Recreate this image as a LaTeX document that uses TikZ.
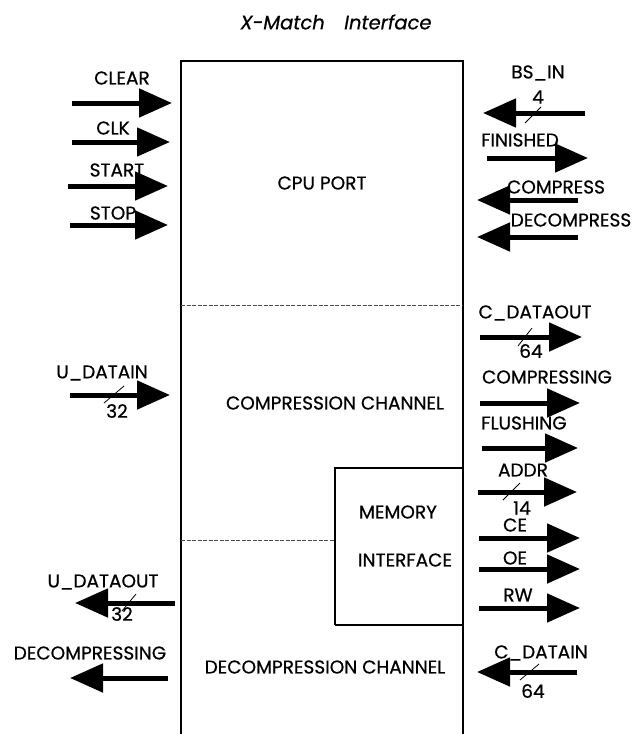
\documentclass[tikz,border=0pt]{standalone}
\usepackage{fontspec}
\setmainfont{Poppins}[FakeBold=0.6]
\usetikzlibrary{arrows.meta}
\tikzset{
  sig/.style={line width=5pt, -{Triangle[length=33pt,width=28pt]}},
  lbl/.style={font=\fontsize{18.5}{18.5}\selectfont, inner sep=0pt},
  boxlbl/.style={font=\fontsize{18.5}{18.5}\selectfont, inner sep=0pt},
  bus/.style={line width=0.8pt},
  frame/.style={line width=1.3pt},
  divider/.style={line width=0.8pt, dash pattern=on 4pt off 1.5pt, black!70}
}
\begin{document}
\begin{tikzpicture}[x=1pt,y=-1pt]
\useasboundingbox (0,0) rectangle (634,734);
% title
\node[lbl, font=\fontsize{19.5}{19.5}\selectfont\itshape] (title) at (336,22) {X-Match\quad Interface};
% frame
\draw[frame] (181,734) -- (181,61) -- (463,61) -- (463,734);
\draw[divider] (181,305) -- (463,305);
\draw[divider] (181,540) -- (335,540);
\draw[frame] (335,625) -- (335,468) -- (463,468);
\draw[frame] (335,625) -- (463,625);
% box labels
\node[boxlbl] (cpu) at (322,183) {CPU PORT};
\node[boxlbl] (comp) at (335,403) {COMPRESSION CHANNEL};
\node[boxlbl] (mem1) at (398,512) {MEMORY};
\node[boxlbl] (mem2) at (405,560) {INTERFACE};
\node[boxlbl] (decomp) at (325,667) {DECOMPRESSION CHANNEL};
% left side signals
\coordinate (clearA) at (72,103);  \coordinate (clearB) at (172,103);
\coordinate (clkA) at (72,142);    \coordinate (clkB) at (170,142);
\coordinate (startA) at (68,186);  \coordinate (startB) at (168,186);
\coordinate (stopA) at (70,225);   \coordinate (stopB) at (168,225);
\coordinate (udinA) at (70,395);   \coordinate (udinB) at (170,395);
\coordinate (udoutA) at (175,603); \coordinate (udoutB) at (75,603);
\coordinate (decA) at (168,678);   \coordinate (decB) at (70,678);
\draw[sig] (clearA) -- (clearB);
\draw[sig] (clkA) -- (clkB);
\draw[sig] (startA) -- (startB);
\draw[sig] (stopA) -- (stopB);
\draw[sig] (udinA) -- (udinB);
\draw[sig] (udoutA) -- (udoutB);
\draw[sig] (decA) -- (decB);
\node[lbl] (lclear) at (122,78) {CLEAR};
\node[lbl] (lclk) at (113,128) {CLK};
\node[lbl] (lstart) at (117,170) {START};
\node[lbl] (lstop) at (113,213) {STOP};
\node[lbl] (ludin) at (102,373) {U\_DATAIN};
\node[lbl] (ludout) at (103,582) {U\_DATAOUT};
\node[lbl] (ldec) at (90,653) {DECOMPRESSING};
\coordinate (s1a) at (104,403); \coordinate (s1b) at (124,386);
\draw[bus] (s1a) -- (s1b);
\node[lbl] (n32a) at (117,411) {32};
\coordinate (s2a) at (122,611); \coordinate (s2b) at (136,594);
\draw[bus] (s2a) -- (s2b);
\node[lbl] (n32b) at (122,614) {32};
% right side signals
\coordinate (bsA) at (585,113);   \coordinate (bsB) at (483,113);
\coordinate (finA) at (487,158);  \coordinate (finB) at (588,158);
\coordinate (cmpA) at (578,200);  \coordinate (cmpB) at (477,200);
\coordinate (dcmA) at (578,237);  \coordinate (dcmB) at (477,237);
\coordinate (cdoA) at (480,337);  \coordinate (cdoB) at (582,337);
\coordinate (cmgA) at (480,403);  \coordinate (cmgB) at (580,403);
\coordinate (flA) at (482,448);   \coordinate (flB) at (578,448);
\coordinate (adA) at (478,492);   \coordinate (adB) at (577,492);
\coordinate (ceA) at (479,538);   \coordinate (ceB) at (580,538);
\coordinate (oeA) at (479,569);   \coordinate (oeB) at (580,569);
\coordinate (rwA) at (479,608);   \coordinate (rwB) at (580,608);
\coordinate (cdiA) at (577,672);  \coordinate (cdiB) at (477,672);
\draw[sig] (bsA) -- (bsB);
\draw[sig] (finA) -- (finB);
\draw[sig] (cmpA) -- (cmpB);
\draw[sig] (dcmA) -- (dcmB);
\draw[sig] (cdoA) -- (cdoB);
\draw[sig] (cmgA) -- (cmgB);
\draw[sig] (flA) -- (flB);
\draw[sig] (adA) -- (adB);
\draw[sig] (ceA) -- (ceB);
\draw[sig] (oeA) -- (oeB);
\draw[sig] (rwA) -- (rwB);
\draw[sig] (cdiA) -- (cdiB);
\node[lbl] (lbs) at (538,73) {BS\_IN};
\node[lbl] (n4) at (538,97) {4};
\coordinate (s3a) at (525,123); \coordinate (s3b) at (541,107);
\draw[bus] (s3a) -- (s3b);
\node[lbl] (lfin) at (520,140) {FINISHED};
\node[lbl] (lcmp) at (556,187) {COMPRESS};
\node[lbl] (ldcm) at (571,220) {DECOMPRESS};
\node[lbl] (lcdo) at (535,313) {C\_DATAOUT};
\coordinate (s4a) at (518,346); \coordinate (s4b) at (532,328);
\draw[bus] (s4a) -- (s4b);
\node[lbl] (n64a) at (531,351) {64};
\node[lbl] (lcmg) at (547,377) {COMPRESSING};
\node[lbl] (lfl) at (524,423) {FLUSHING};
\node[lbl] (lad) at (523,470) {ADDR};
\coordinate (s5a) at (503,500); \coordinate (s5b) at (520,483);
\draw[bus] (s5a) -- (s5b);
\node[lbl] (n14) at (522,508) {14};
\node[lbl] (lce) at (515,525) {CE};
\node[lbl] (loe) at (515,558) {OE};
\node[lbl] (lrw) at (518,595) {RW};
\node[lbl] (lcdi) at (541,653) {C\_DATAIN};
\coordinate (s6a) at (520,680); \coordinate (s6b) at (539,664);
\draw[bus] (s6a) -- (s6b);
\node[lbl] (n64b) at (533,691) {64};
\end{tikzpicture}
\end{document}
